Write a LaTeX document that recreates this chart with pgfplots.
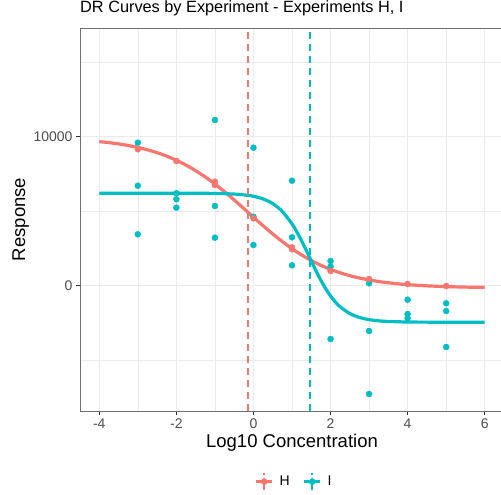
\documentclass[border=0pt]{standalone}
\usepackage{pgfplots}
\pgfplotsset{compat=1.18}
\usepackage{fontspec}
\setmainfont{Liberation Sans}

\definecolor{colH}{HTML}{F8766D}
\definecolor{colI}{HTML}{00BFC4}
\definecolor{gridgrey}{HTML}{EBEBEB}
\definecolor{ticktext}{HTML}{4D4D4D}
\definecolor{framegrey}{HTML}{333333}

\begin{document}
\begin{tikzpicture}
\useasboundingbox (0,0) rectangle (501bp,495bp);
\begin{axis}[
  at={(80bp,84bp)}, anchor=south west,
  width=424bp, height=383bp, scale only axis,
  xmin=-4.5, xmax=6.5, ymin=-8409, ymax=17295,
  xtick={-4,-2,0,2,4,6}, ytick={0,10000},
  minor xtick={-3,-1,1,3,5}, minor ytick={-5000,5000,15000},
  grid=both,
  major grid style={draw=gridgrey, line width=1bp},
  minor grid style={draw=gridgrey, line width=0.5bp},
  axis line style={draw=framegrey!70, line width=0.6bp},
  tick style={draw=framegrey, line width=0.6bp},
  tick align=outside, major tick length=4bp, minor tick length=0pt,
  xtick pos=bottom, ytick pos=left,
  /pgf/number format/assume math mode=true,
  scaled y ticks=false,
  yticklabel style={/pgf/number format/1000 sep={}},
  ticklabel style={font=\fontsize{14bp}{16bp}\selectfont, text=ticktext},
  xlabel={Log10 Concentration}, ylabel={Response},
  label style={font=\fontsize{18.5bp}{20bp}\selectfont, text=black},
  x label style={at={(axis description cs:0.5,-0.094)}, anchor=base},
  y label style={at={(axis description cs:-0.1297,0.5)}, anchor=base, rotate=0},
  title={DR Curves by Experiment - Experiments H, I},
  title style={at={(axis description cs:0,1.0261)}, anchor=base west, inner sep=0pt,
               yshift=0pt, font=\fontsize{16.3bp}{18bp}\selectfont},
  legend columns=2,
  legend style={draw=none, fill=none, at={(axis description cs:0.51,-0.1846)}, anchor=center,
                font=\fontsize{14bp}{16bp}\selectfont,
                /tikz/every even column/.append style={column sep=7bp},
                nodes={inner xsep=6bp, inner ysep=1bp}},
]

% fitted dose-response curves
\addplot[forget plot, colH, line width=3.2bp, smooth] coordinates {
 (-4.00,9672) (-3.75,9602) (-3.50,9516) (-3.25,9410) (-3.00,9279) (-2.75,9120)
 (-2.50,8927) (-2.25,8695) (-2.00,8419) (-1.75,8096) (-1.50,7721) (-1.25,7296)
 (-1.00,6822) (-0.75,6304) (-0.50,5752) (-0.25,5179) (0.00,4598) (0.25,4025)
 (0.50,3475) (0.75,2959) (1.00,2486) (1.25,2063) (1.50,1691) (1.75,1369)
 (2.00,1095) (2.25,865) (2.50,673) (2.75,515) (3.00,385) (3.25,280) (3.50,195)
 (3.75,126) (4.00,70) (4.25,26) (4.50,-10) (4.75,-38) (5.00,-61) (5.50,-94) (6.00,-114)
};
\addplot[forget plot, colI, line width=3.2bp, smooth] coordinates {
 (-4.00,6210) (-3.00,6210) (-2.00,6209) (-1.50,6205) (-1.00,6193) (-0.75,6178)
 (-0.50,6150) (-0.25,6098) (0.00,6001) (0.25,5824) (0.50,5510) (0.75,4980)
 (1.00,4151) (1.125,3614) (1.25,3005) (1.375,2345) (1.50,1661) (1.625,988)
 (1.75,358) (1.875,-207) (2.00,-692) (2.125,-1094) (2.25,-1419) (2.50,-1870)
 (2.75,-2132) (3.00,-2278) (3.25,-2358) (3.50,-2401) (4.00,-2436) (4.50,-2446)
 (5.00,-2449) (6.00,-2450)
};

% observed responses
\addplot[forget plot, only marks, mark=*, mark size=3bp, colI, mark options={draw=none, fill=colI}] coordinates {
 (-3,9597) (-3,6711) (-3,3449)
 (-2,6201) (-2,5799) (-2,5235)
 (-1,11121) (-1,5349) (-1,3222)
 (0,9262) (0,4631) (0,2732)
 (1,7047) (1,3248) (1,1369)
 (2,1658) (2,1275) (2,-3577)
 (3,161) (3,-3040) (3,-7268)
 (4,-940) (4,-1899) (4,-2188)
 (5,-1181) (5,-1698) (5,-4114)
};
\addplot[forget plot, only marks, mark=*, mark size=3bp, colH, mark options={draw=none, fill=colH}] coordinates {
 (-3,9154) (-2,8369) (-1,6980) (-1,6758) (0,4523) (1,2577) (1,2443)
 (2,987) (3,450) (4,114) (5,-20)
};

% EC50 markers
\addplot[forget plot, draw=colH, line width=2bp, dash pattern=on 7bp off 5bp] coordinates {(-0.13,-8409) (-0.13,17295)};
\addplot[forget plot, draw=colI, line width=2bp, dash pattern=on 7bp off 5bp] coordinates {(1.46,-8409) (1.46,17295)};

\addlegendimage{legend image code/.code={
  \draw[colH, line width=2.8bp] (-8bp,0bp) -- (8bp,0bp);
  \draw[colH, line width=1.8bp, dash pattern=on 2bp off 3bp on 12bp] (0bp,9bp) -- (0bp,-9bp);
  \fill[colH] (0bp,0bp) circle (3bp);
}}
\addlegendentry{H}
\addlegendimage{legend image code/.code={
  \draw[colI, line width=2.8bp] (-8bp,0bp) -- (8bp,0bp);
  \draw[colI, line width=1.8bp, dash pattern=on 2bp off 3bp on 12bp] (0bp,9bp) -- (0bp,-9bp);
  \fill[colI] (0bp,0bp) circle (3bp);
}}
\addlegendentry{I}
\end{axis}
\end{tikzpicture}
\end{document}
